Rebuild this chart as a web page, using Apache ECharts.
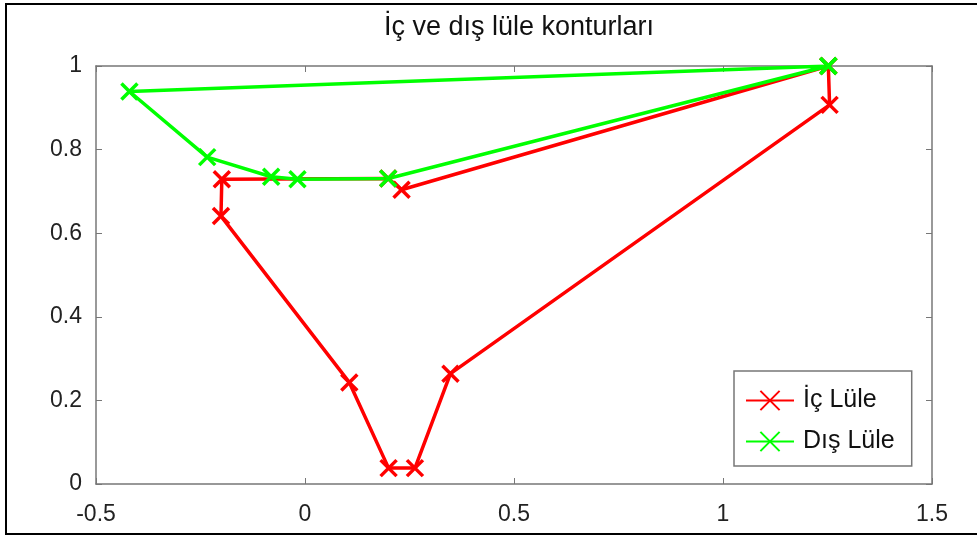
<!DOCTYPE html>
<html lang="tr">
<head>
    <meta charset="UTF-8">
    <style>
        html, body { margin: 0; padding: 0; background: #fff; }
        #chart { width: 977px; height: 537px; }
    </style>
    <script src="https://cdn.jsdelivr.net/npm/echarts@6/dist/echarts.min.js"></script>
</head>
<body>
    <div id="chart"></div>
    <script>
        // İç lüle (red) contour points [x, y]
        var icLule = [
            [1.252, 1.000], [1.255, 0.907], [0.348, 0.264], [0.263, 0.038],
            [0.200, 0.038], [0.106, 0.243], [-0.201, 0.641], [-0.199, 0.729],
            [0.199, 0.731], [0.231, 0.704], [1.252, 1.000]
        ];
        // Dış lüle (green) contour points [x, y]
        var disLule = [
            [1.252, 1.000], [0.199, 0.731], [-0.018, 0.729], [-0.081, 0.735],
            [-0.234, 0.782], [-0.420, 0.939], [1.252, 1.000]
        ];
        var seriesNames = ['İç Lüle', 'Dış Lüle'];
        var seriesColors = ['#ff0000', '#00ff00'];

        var font = 'Liberation Sans';
        var axisGray = '#777777';
        var crossSymbol = 'path://M0,0L10,10M10,0L0,10';

        var chart = echarts.init(document.getElementById('chart'));

        function makeSeries(name, data, color) {
            return {
                name: name,
                type: 'line',
                data: data,
                symbol: crossSymbol,
                symbolSize: 16,
                itemStyle: { color: 'rgba(0,0,0,0)', borderColor: color, borderWidth: 3.5 },
                lineStyle: { color: color, width: 3.5 },
                emphasis: { disabled: true },
                animation: false
            };
        }

        var option = {
            backgroundColor: '#fff',
            title: {
                text: 'İç ve dış lüle konturları',
                left: 514,
                textAlign: 'center',
                top: 9,
                textStyle: { fontFamily: font, fontSize: 27, fontWeight: 'normal', color: '#111' }
            },
            legend: {
                orient: 'vertical',
                left: 734,
                top: 371,
                padding: [17, 17, 12, 11],
                itemWidth: 48,
                itemHeight: 24,
                itemGap: 16,
                borderColor: axisGray,
                borderWidth: 1.5,
                backgroundColor: '#fff',
                textStyle: { fontFamily: font, fontSize: 25, color: '#111', padding: [0, 0, 0, 4] },
                data: seriesNames
            },
            grid: { left: 96, right: 45, top: 66, bottom: 53 },
            xAxis: [{
                type: 'value', min: -0.5, max: 1.5, interval: 0.5,
                axisLine: { onZero: false, lineStyle: { color: axisGray, width: 1.5 } },
                axisTick: { inside: true, length: 6, lineStyle: { color: axisGray } },
                axisLabel: { fontFamily: font, fontSize: 23, color: '#222', margin: 19 },
                splitLine: { show: false }
            }, {
                type: 'value', position: 'top', min: -0.5, max: 1.5, interval: 0.5,
                axisLine: { onZero: false, lineStyle: { color: axisGray, width: 1.5 } },
                axisTick: { inside: true, length: 6, lineStyle: { color: axisGray } },
                axisLabel: { show: false },
                splitLine: { show: false }
            }],
            yAxis: [{
                type: 'value', min: 0, max: 1, interval: 0.2,
                axisLine: { show: true, onZero: false, lineStyle: { color: axisGray, width: 1.5 } },
                axisTick: { show: true, inside: true, length: 6, lineStyle: { color: axisGray } },
                axisLabel: { fontFamily: font, fontSize: 23, color: '#222', margin: 14 },
                splitLine: { show: false }
            }, {
                type: 'value', position: 'right', min: 0, max: 1, interval: 0.2,
                axisLine: { show: true, onZero: false, lineStyle: { color: axisGray, width: 1.5 } },
                axisTick: { show: true, inside: true, length: 6, lineStyle: { color: axisGray } },
                axisLabel: { show: false },
                splitLine: { show: false }
            }],
            graphic: [{
                type: 'rect',
                shape: { x: 6, y: 4, width: 990, height: 530 },
                style: { fill: 'none', stroke: '#000', lineWidth: 2 },
                silent: true
            }],
            series: [
                makeSeries(seriesNames[0], icLule, seriesColors[0]),
                makeSeries(seriesNames[1], disLule, seriesColors[1])
            ]
        };

        chart.setOption(option);
    </script>
</body>
</html>
